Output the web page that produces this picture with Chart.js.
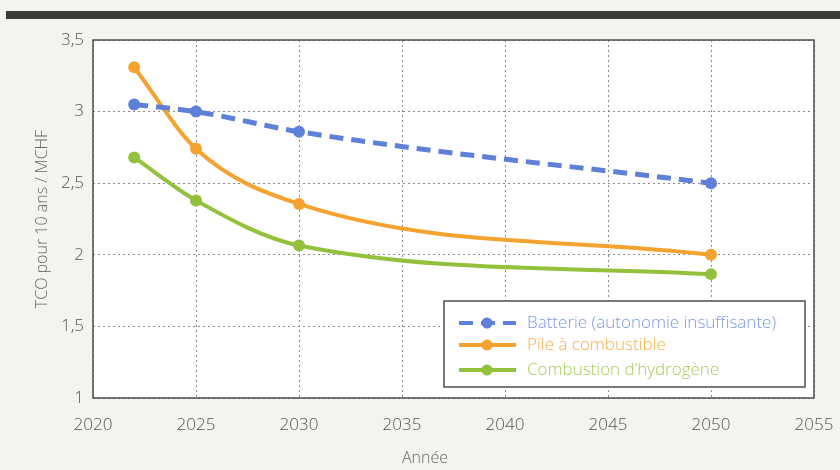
<!DOCTYPE html>
<html>
<head>
<meta charset="utf-8">
<script src="https://cdn.jsdelivr.net/npm/chart.js@4/dist/chart.umd.min.js"></script>
<style>
  html, body { margin: 0; padding: 0; background: #f4f3ef; }
  #wrap { width: 840px; height: 470px; }
</style>
</head>
<body>
<div id="wrap"><canvas id="chart" width="840" height="470"></canvas></div>
<script>
var years = [2022, 2025, 2030, 2050]
var batterie = [3.05, 3.0, 2.86, 2.5]
var pile = [3.31, 2.74, 2.355, 2.0]
var combustion = [2.68, 2.38, 2.065, 1.865]
var seriesLabels = ['Batterie (autonomie insuffisante)', 'Pile à combustible', 'Combustion d\u2019hydrogène']
var xTicks = [2020, 2025, 2030, 2035, 2040, 2045, 2050, 2055]
var yTicks = [1, 1.5, 2, 2.5, 3, 3.5]

var FONT = '"Open Sans", "DejaVu Sans", sans-serif'
var blue = '#5e80d8'
var orange = '#f4a330'
var green = '#93c13c'

function pts(vals) {
    return years.map(function (y, i) { return {x: y, y: vals[i]} })
}

var decor = {
    id: 'decor',
    beforeDraw: function (chart) {
        var c = chart.ctx, a = chart.chartArea
        c.save()
        c.fillStyle = '#f4f3ef'
        c.fillRect(0, 0, chart.width, chart.height)
        c.fillStyle = '#3a3a38'
        c.fillRect(6, 11, chart.width - 6, 8)
        c.fillStyle = '#ffffff'
        c.fillRect(a.left, a.top, a.right - a.left, a.bottom - a.top)
        c.restore()
    },
    beforeDatasetsDraw: function (chart) {
        var c = chart.ctx, a = chart.chartArea
        c.save()
        c.strokeStyle = '#4f4f4f'
        c.lineWidth = 1.5
        c.strokeRect(a.left, a.top, a.right - a.left, a.bottom - a.top)
        c.fillStyle = '#666'
        c.font = '300 16px ' + FONT
        c.textAlign = 'left'
        c.textBaseline = 'middle'
        c.fillText('Année', 402, 458)
        c.restore()
    },
    afterDatasetsDraw: function (chart) {
        // legend box inside the plot
        var c = chart.ctx
        var bx = 444, by = 301, bw = 361, bh = 86
        c.save()
        c.fillStyle = '#ffffff'
        c.fillRect(bx, by, bw, bh)
        c.strokeStyle = '#4f4f4f'
        c.lineWidth = 1.5
        c.strokeRect(bx, by, bw, bh)
        var rows = [323, 345, 370]
        chart.data.datasets.forEach(function (ds, i) {
            var y = rows[i]
            c.strokeStyle = ds.borderColor
            c.lineWidth = 4
            c.setLineDash(ds.borderDash || [])
            c.beginPath()
            c.moveTo(459, y)
            c.lineTo(516, y)
            c.stroke()
            c.setLineDash([])
            c.fillStyle = ds.borderColor
            c.beginPath()
            c.arc(487, y, 5.5, 0, Math.PI * 2)
            c.fill()
            c.fillStyle = ds.legendText
            c.font = '300 17px ' + FONT
            c.textAlign = 'left'
            c.textBaseline = 'middle'
            c.fillText(ds.label, 527, y)
        })
        c.restore()
    }
}

var chart = new Chart(document.getElementById('chart'), {
    type: 'line',
    data: {
        datasets: [
            {
                label: seriesLabels[0], data: pts(batterie),
                borderColor: blue, backgroundColor: blue, legendText: '#7f9ae0',
                borderWidth: 5, borderDash: [14, 8], pointRadius: 6, pointBorderWidth: 0,
                cubicInterpolationMode: 'monotone'
            },
            {
                label: seriesLabels[1], data: pts(pile),
                borderColor: orange, backgroundColor: orange, legendText: '#f5ad4c',
                borderWidth: 4, pointRadius: 6, pointBorderWidth: 0,
                cubicInterpolationMode: 'monotone'
            },
            {
                label: seriesLabels[2], data: pts(combustion),
                borderColor: green, backgroundColor: green, legendText: '#a6cc5a',
                borderWidth: 4, pointRadius: 6, pointBorderWidth: 0,
                cubicInterpolationMode: 'monotone'
            }
        ]
    },
    options: {
        responsive: false,
        animation: false,
        layout: {padding: {top: 40, right: 26, left: 0, bottom: 0}},
        plugins: {legend: {display: false}, tooltip: {enabled: false}},
        scales: {
            x: {
                type: 'linear', min: 2020, max: 2055,
                afterBuildTicks: function (s) { s.ticks = xTicks.map(function (v) { return {value: v} }) },
                afterFit: function (s) { s.height = 72; s.paddingRight = 0; s.paddingLeft = 0 },
                grid: {color: '#8a8a8a', lineWidth: 1, drawTicks: false},
                border: {display: false, dash: [2, 3]},
                ticks: {
                    color: '#555', padding: 17,
                    font: {family: FONT, size: 17, weight: '300'},
                    callback: function (v) { return String(v) }
                }
            },
            y: {
                min: 1, max: 3.5,
                afterBuildTicks: function (s) { s.ticks = yTicks.map(function (v) { return {value: v} }) },
                afterFit: function (s) { s.width = 93; s.paddingTop = 0; s.paddingBottom = 0 },
                grid: {color: '#8a8a8a', lineWidth: 1, drawTicks: false},
                border: {display: false, dash: [2, 3]},
                title: {
                    display: true, text: 'TCO pour 10 ans / MCHF', color: '#666',
                    font: {family: FONT, size: 16, weight: '300'}, padding: {top: 33, bottom: 0}
                },
                ticks: {
                    color: '#555', padding: 9,
                    font: {family: FONT, size: 17, weight: '300'},
                    callback: function (v) { return String(v).replace('.', ',') }
                }
            }
        }
    },
    plugins: [decor]
})
</script>
</body>
</html>
